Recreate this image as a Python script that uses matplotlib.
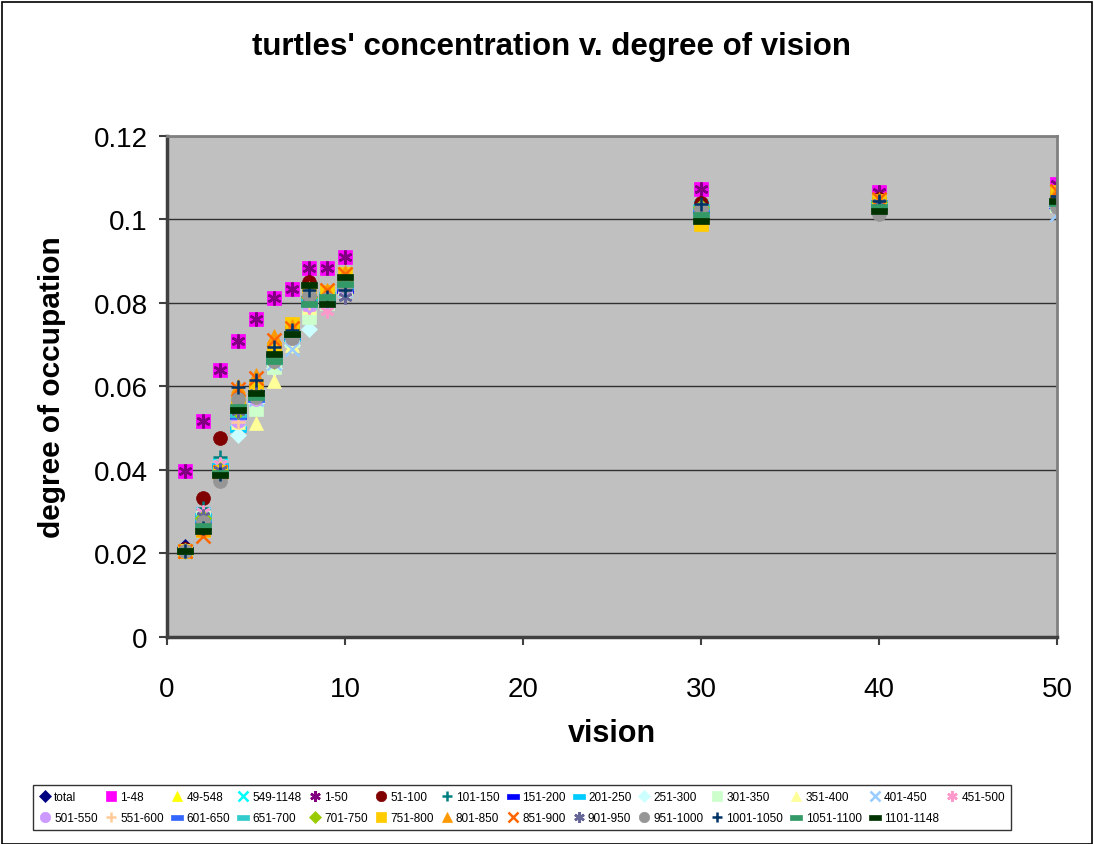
import matplotlib
matplotlib.use("Agg")
import matplotlib.pyplot as plt
from matplotlib.patches import Rectangle
from matplotlib.ticker import FuncFormatter

plt.rcParams['font.family'] = ['Liberation Sans', 'DejaVu Sans']

# vision values on the x axis
vision = [1, 2, 3, 4, 5, 6, 7, 8, 9, 10, 30, 40, 50]

# degree of occupation
total = [0.0215, 0.0290, 0.0405, 0.0530, 0.0575, 0.0660, 0.0720, 0.0800, 0.0810, 0.0840, 0.1030, 0.1040, 0.1050]
s_1_48 = [0.0398, 0.0517, 0.0640, 0.0709, 0.0762, 0.0812, 0.0833, 0.0884, 0.0884, 0.0910, 0.1072, 0.1065, 0.1085]
s_49_548 = [0.0205, 0.0280, 0.0395, 0.0515, 0.0560, 0.0650, 0.0715, 0.0795, 0.0805, 0.0835, 0.1025, 0.1035, 0.1045]
s_549_1148 = [0.0206, 0.0295, 0.0412, 0.0525, 0.0580, 0.0665, 0.0722, 0.0805, 0.0815, 0.0838, 0.1030, 0.1040, 0.1040]
s_1_50 = [0.0398, 0.0517, 0.0640, 0.0709, 0.0762, 0.0812, 0.0833, 0.0884, 0.0884, 0.0910, 0.1072, 0.1065, 0.1085]
s_51_100 = [0.0210, 0.0333, 0.0477, 0.0560, 0.0600, 0.0700, 0.0740, 0.0850, 0.0820, 0.0860, 0.1040, 0.1050, 0.1060]
s_101_150 = [0.0205, 0.0310, 0.0432, 0.0540, 0.0590, 0.0680, 0.0730, 0.0820, 0.0825, 0.0850, 0.1035, 0.1045, 0.1055]
s_151_200 = [0.0207, 0.0285, 0.0405, 0.0530, 0.0585, 0.0670, 0.0720, 0.0810, 0.0810, 0.0832, 0.1020, 0.1040, 0.1035]
s_201_250 = [0.0206, 0.0290, 0.0410, 0.0498, 0.0575, 0.0660, 0.0715, 0.0800, 0.0805, 0.0840, 0.1015, 0.1035, 0.1040]
s_251_300 = [0.0205, 0.0288, 0.0400, 0.0484, 0.0560, 0.0645, 0.0700, 0.0738, 0.0815, 0.0835, 0.1010, 0.1030, 0.1030]
s_301_350 = [0.0205, 0.0285, 0.0395, 0.0520, 0.0546, 0.0647, 0.0710, 0.0767, 0.0800, 0.0830, 0.1015, 0.1030, 0.1035]
s_351_400 = [0.0205, 0.0292, 0.0405, 0.0515, 0.0513, 0.0613, 0.0700, 0.0790, 0.0810, 0.0840, 0.1020, 0.1035, 0.1050]
s_401_450 = [0.0205, 0.0295, 0.0408, 0.0525, 0.0570, 0.0655, 0.0690, 0.0800, 0.0805, 0.0830, 0.1015, 0.1025, 0.1013]
s_451_500 = [0.0205, 0.0300, 0.0414, 0.0520, 0.0575, 0.0665, 0.0720, 0.0790, 0.0780, 0.0825, 0.1020, 0.1035, 0.1045]
s_501_550 = [0.0205, 0.0285, 0.0400, 0.0517, 0.0570, 0.0660, 0.0715, 0.0795, 0.0805, 0.0830, 0.1025, 0.1035, 0.1045]
s_551_600 = [0.0205, 0.0288, 0.0405, 0.0515, 0.0572, 0.0662, 0.0718, 0.0800, 0.0810, 0.0835, 0.1025, 0.1040, 0.1050]
s_601_650 = [0.0205, 0.0280, 0.0395, 0.0530, 0.0570, 0.0665, 0.0720, 0.0805, 0.0815, 0.0838, 0.1025, 0.1038, 0.1040]
s_651_700 = [0.0205, 0.0285, 0.0400, 0.0535, 0.0580, 0.0668, 0.0722, 0.0810, 0.0818, 0.0842, 0.1030, 0.1040, 0.1045]
s_701_750 = [0.0205, 0.0285, 0.0400, 0.0540, 0.0585, 0.0660, 0.0725, 0.0815, 0.0820, 0.0845, 0.1030, 0.1042, 0.1050]
s_751_800 = [0.0205, 0.0255, 0.0395, 0.0563, 0.0600, 0.0690, 0.0750, 0.0830, 0.0825, 0.0870, 0.0990, 0.1045, 0.1065]
s_801_850 = [0.0205, 0.0258, 0.0398, 0.0600, 0.0628, 0.0721, 0.0745, 0.0835, 0.0830, 0.0875, 0.1005, 0.1050, 0.1070]
s_851_900 = [0.0205, 0.0242, 0.0395, 0.0595, 0.0620, 0.0712, 0.0740, 0.0830, 0.0830, 0.0870, 0.1010, 0.1048, 0.1068]
s_901_950 = [0.0205, 0.0290, 0.0400, 0.0540, 0.0585, 0.0670, 0.0725, 0.0815, 0.0810, 0.0814, 0.1025, 0.1040, 0.1050]
s_951_1000 = [0.0205, 0.0275, 0.0374, 0.0570, 0.0575, 0.0660, 0.0715, 0.0820, 0.0810, 0.0840, 0.1025, 0.1013, 0.1030]
s_1001_1050 = [0.0205, 0.0260, 0.0390, 0.0599, 0.0616, 0.0695, 0.0735, 0.0830, 0.0814, 0.0830, 0.1037, 0.1045, 0.1055]
s_1051_1100 = [0.0205, 0.0265, 0.0392, 0.0550, 0.0575, 0.0660, 0.0725, 0.0798, 0.0815, 0.0845, 0.1010, 0.1030, 0.1040]
s_1101_1148 = [0.0206, 0.0254, 0.0388, 0.0544, 0.0584, 0.0678, 0.0726, 0.0843, 0.0797, 0.0862, 0.0996, 0.1020, 0.1044]

labels = ['total', '1-48', '49-548', '549-1148', '1-50', '51-100', '101-150',
          '151-200', '201-250', '251-300', '301-350', '351-400', '401-450',
          '451-500', '501-550', '551-600', '601-650', '651-700', '701-750',
          '751-800', '801-850', '851-900', '901-950', '951-1000', '1001-1050',
          '1051-1100', '1101-1148']
series = [total, s_1_48, s_49_548, s_549_1148, s_1_50, s_51_100, s_101_150,
          s_151_200, s_201_250, s_251_300, s_301_350, s_351_400, s_401_450,
          s_451_500, s_501_550, s_551_600, s_601_650, s_651_700, s_701_750,
          s_751_800, s_801_850, s_851_900, s_901_950, s_951_1000, s_1001_1050,
          s_1051_1100, s_1101_1148]

# excel-ish marker cycle
dash = [(-1, -0.4), (1, -0.4), (1, 0.4), (-1, 0.4), (-1, -0.4)]
star = (6, 2, 0)
styles = [
    ('#000080', 'D'), ('#FF00FF', 's'), ('#FFFF00', '^'), ('#00FFFF', 'x'),
    ('#800080', star), ('#800000', 'o'), ('#008080', '+'), ('#0000FF', dash),
    ('#00CCFF', dash), ('#CCFFFF', 'D'), ('#CCFFCC', 's'), ('#FFFF99', '^'),
    ('#99CCFF', 'x'), ('#FF99CC', star), ('#CC99FF', 'o'), ('#FFCC99', '+'),
    ('#3366FF', dash), ('#33CCCC', dash), ('#99CC00', 'D'), ('#FFCC00', 's'),
    ('#FF9900', '^'), ('#FF6600', 'x'), ('#666699', star), ('#969696', 'o'),
    ('#003366', '+'), ('#339966', dash), ('#003300', dash),
]

fig = plt.figure(figsize=(10.94, 8.45), dpi=100)
fig.patches.append(Rectangle((0.002, 0.0), 0.996, 0.997, transform=fig.transFigure,
                             fill=False, edgecolor='black', lw=1.2))
ax = fig.add_axes([0.1527, 0.245, 0.8135, 0.593])
ax.set_facecolor('#C0C0C0')

handles = []
for vals, lab, (col, mk) in zip(series, labels, styles):
    lw = 1.8 if mk in ('x', '+', star) else 0.5
    ms = 10
    if isinstance(mk, list):
        ms = 12
    elif mk == 'D':
        ms = 8.5
    h, = ax.plot(vision, vals, linestyle='none', marker=mk, color=col, markersize=ms,
                 markeredgewidth=lw, markeredgecolor=col, label=lab)
    handles.append(h)

ax.set_xlim(0, 50)
ax.set_ylim(0, 0.12)
ax.set_xticks([0, 10, 20, 30, 40, 50])
ax.set_yticks([0, 0.02, 0.04, 0.06, 0.08, 0.1, 0.12])
ax.yaxis.set_major_formatter(FuncFormatter(lambda v, p: '%g' % round(v, 2)))
ax.yaxis.grid(True, color='#303030', lw=1)
ax.set_axisbelow(True)
ax.tick_params(labelsize=20, length=6, width=1.5, color='#404040')
ax.tick_params(axis='x', pad=22)
ax.tick_params(axis='y', pad=8)
for s in ['left', 'bottom']:
    ax.spines[s].set_color('#404040')
    ax.spines[s].set_linewidth(2.5)
for s in ['right', 'top']:
    ax.spines[s].set_color('#808080')
    ax.spines[s].set_linewidth(2)

fig.text(551 / 1094, 1 - 47 / 845, "turtles' concentration v. degree of vision",
         fontsize=22.5, fontweight='bold', ha='center', va='center')
ax.set_xlabel('vision', fontsize=22, fontweight='bold')
ax.xaxis.set_label_coords(0.5, -0.162)
ax.set_ylabel('degree of occupation', fontsize=21.5, fontweight='bold')
ax.yaxis.set_label_coords(-0.113, 0.5)

# legend in excel row order (matplotlib fills column by column)
row1 = list(range(14))
row2 = list(range(14, 27))
order = []
for c in range(13):
    order += [row1[c], row2[c]]
order.append(row1[13])
leg = fig.legend([handles[i] for i in order], [labels[i] for i in order],
                 loc='upper left', bbox_to_anchor=(33 / 1094, 1 - 786 / 845),
                 ncol=14, fontsize=8.5, frameon=True, fancybox=False,
                 edgecolor='black', markerscale=0.75, handlelength=1.0,
                 handletextpad=0.3, columnspacing=0.6, borderpad=0.5,
                 labelspacing=0.75, borderaxespad=0)
leg.get_frame().set_linewidth(1)

fig.savefig('out.png', dpi=100)
